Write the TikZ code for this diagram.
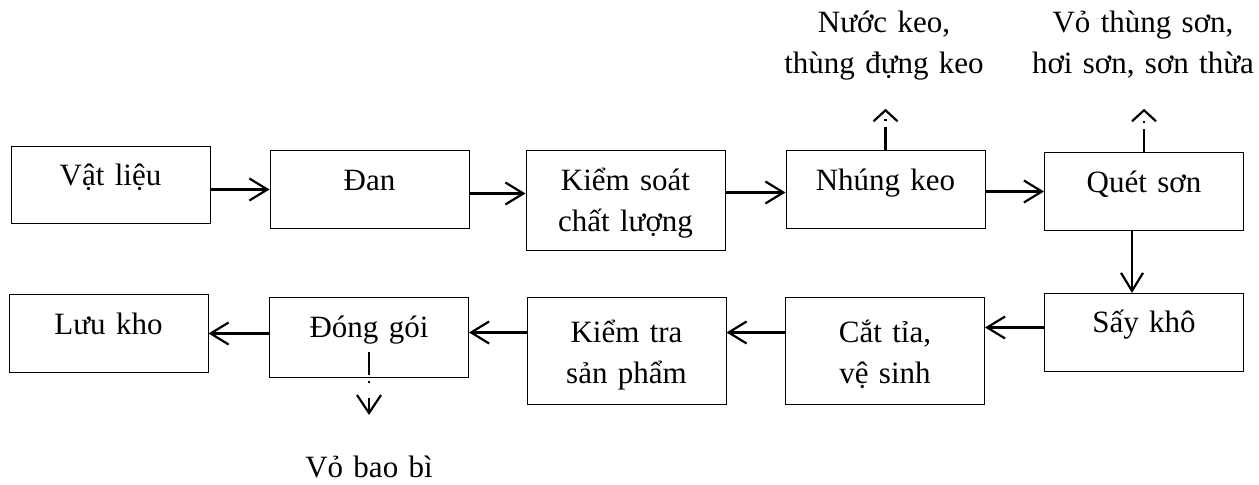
\documentclass[tikz,border=0pt]{standalone}
\usepackage{fontspec}
\setmainfont{Liberation Serif}
\usetikzlibrary{arrows.meta}

\begin{document}
\begin{tikzpicture}[x=0.5pt, y=-0.5pt,
    hop/.style={draw, line width=0.5pt, inner sep=0pt, anchor=north, text width=99.5pt, align=center, font=\fontsize{15.5}{20.5}\selectfont},
    ghichu/.style={inner sep=0pt, anchor=north, text width=115pt, align=center, font=\fontsize{15.5}{20.5}\selectfont},
    muiten/.style={line width=1.1pt, -{Straight Barb[length=9pt, width=11pt]}},
    thai/.style={line width=1.1pt, dash pattern=on 11.5pt off 3pt on 1pt off 7.5pt}]

    % Khung hình
    \useasboundingbox (0,0) rectangle (1259,485);

    % Macro vẽ ô công đoạn
    % \veHop{tên}{x}{y trên}{cao chữ}{sâu chữ}{nội dung}
    \newcommand{\veHop}[6]{
        \node[hop, text height=#4, text depth=#5] (#1) at (#2, #3) {#6};
    }

    % 1. Hàng trên
    \veHop{vatlieu}{110.5}{146}{19.5pt}{19pt}{Vật liệu}
    \veHop{dan}{369.5}{150}{20pt}{19pt}{Đan}
    \veHop{kiemsoat}{625.5}{150}{20pt}{30pt}{Kiểm soát\\chất lượng}
    \veHop{nhung}{885.5}{150}{20pt}{19pt}{Nhúng keo}
    \veHop{quet}{1144}{152}{20pt}{19pt}{Quét sơn}

    % 2. Hàng dưới
    \veHop{luukho}{108.5}{294}{20pt}{19pt}{Lưu kho}
    \veHop{donggoi}{369}{297}{20pt}{20pt}{Đóng gói}
    \veHop{kiemtra}{626.5}{297}{22.5pt}{31pt}{Kiểm tra\\sản phẩm}
    \veHop{cattia}{885}{297}{22.5pt}{31pt}{Cắt tỉa,\\vệ sinh}
    \veHop{saykho}{1144}{293}{19.5pt}{19.5pt}{Sấy khô}

    % 3. Chất thải
    \node[ghichu, text height=16pt, text depth=38pt] (keo) at (884, 0) {Nước keo,\\thùng đựng keo};
    \node[ghichu, text height=16pt, text depth=38pt] (son) at (1143, 0) {Vỏ thùng sơn,\\hơi sơn, sơn thừa};
    \node[ghichu, text height=31pt, text depth=0pt] (baobi) at (369, 415) {Vỏ bao bì};

    % 4. Mũi tên
    \draw[muiten] (vatlieu.east |- dan.west) -- (dan.west);
    \draw[muiten] ([yshift=-2pt]dan.east) -- ([yshift=-2pt]dan.east -| kiemsoat.west);
    \draw[muiten] ([yshift=-1.5pt]nhung.west -| kiemsoat.east) -- ([yshift=-1.5pt]nhung.west);
    \draw[muiten] (nhung.east |- quet.west) -- (quet.west);
    \draw[muiten] ([xshift=-6pt]quet.south) -- ([xshift=-6pt]saykho.north);

    \draw[muiten] ([yshift=2.5pt]saykho.west) -- ([yshift=2.5pt]saykho.west -| cattia.east);
    \draw[muiten] (cattia.west |- saykho.west) -- (kiemtra.east |- saykho.west);
    \draw[muiten] ([yshift=2.5pt]donggoi.east -| kiemtra.west) -- ([yshift=2.5pt]donggoi.east);
    \draw[muiten] (donggoi.west |- luukho.east) -- (luukho.east);

    % Mũi tên nét đứt
    \draw[thai, -{Straight Barb[length=5.5pt, width=12pt]}] (nhung.north) -- (nhung.north |- keo.south);
    \draw[thai, -{Straight Barb[length=5.5pt, width=12pt]}] (quet.north) -- (quet.north |- son.south);
    \draw[thai, -{Straight Barb[length=9pt, width=12pt]}] ([yshift=13pt]donggoi.south) -- (baobi.north);

\end{tikzpicture}
\end{document}
